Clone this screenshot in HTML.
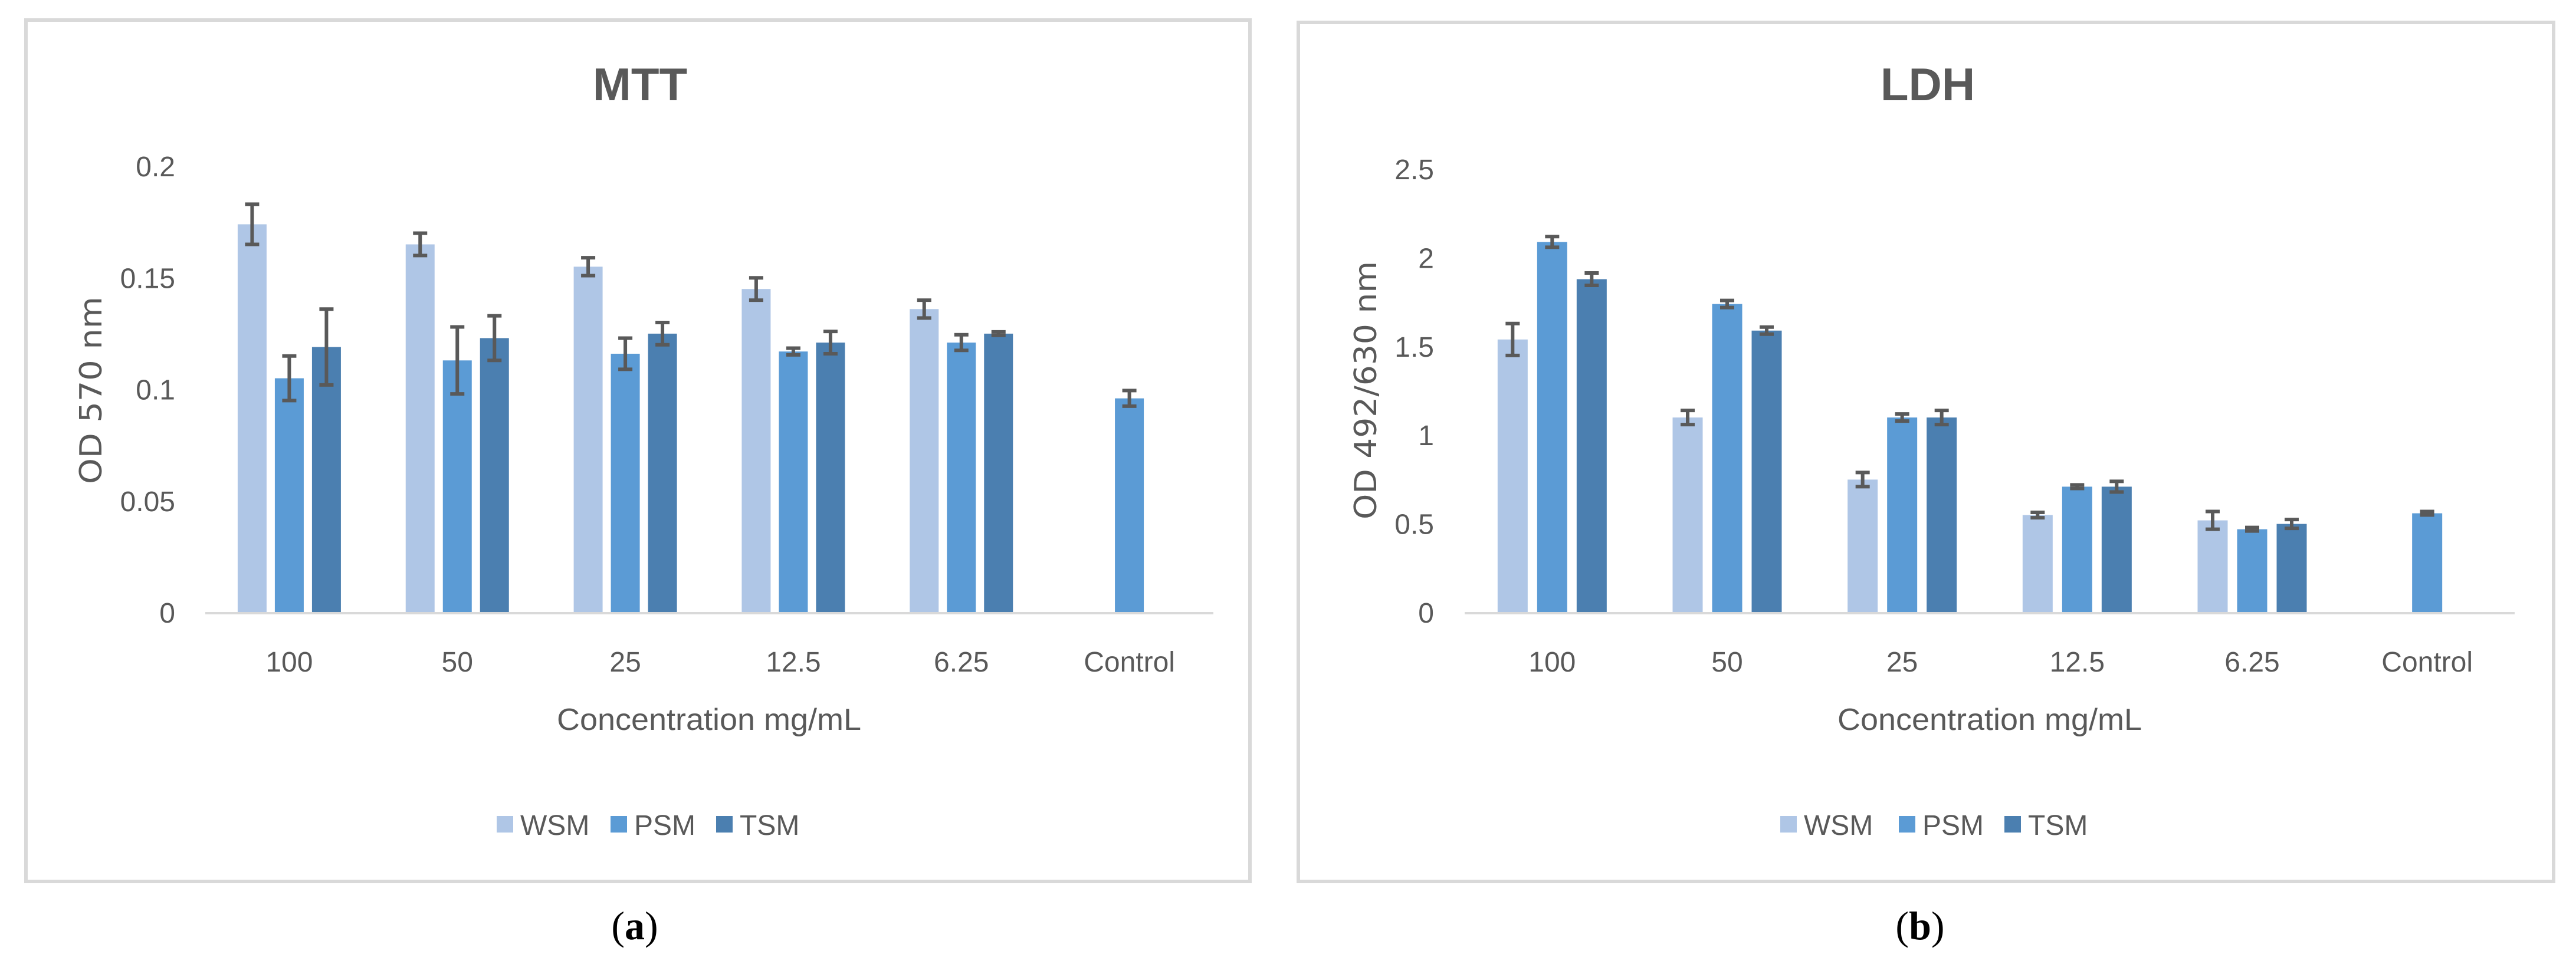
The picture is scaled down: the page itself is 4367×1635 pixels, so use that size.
<!DOCTYPE html>
<html><head><meta charset="utf-8"><style>
html,body{margin:0;padding:0;background:#fff;}
svg{display:block;}
text{font-family:"Liberation Sans Narrow","Liberation Sans",sans-serif;fill:#595959;}
</style></head><body>
<svg id="fig" width="4367" height="1635" viewBox="0 0 4367 1635" xmlns="http://www.w3.org/2000/svg">
<rect x="0" y="0" width="4367" height="1635" fill="#fff"/>
<rect x="44" y="34" width="2075" height="1461" fill="#fff" stroke="#d9d9d9" stroke-width="6"/>
<rect x="2201" y="38" width="2128" height="1457" fill="#fff" stroke="#d9d9d9" stroke-width="6"/>
<g id="chartA"></g>
<g id="chartB"></g>
<text x="1076" y="1593" text-anchor="middle" style="font-family:'Liberation Serif',serif;font-size:68px;fill:#000">(<tspan font-weight="bold">a</tspan>)</text>
<text x="3255" y="1593" text-anchor="middle" style="font-family:'Liberation Serif',serif;font-size:68px;fill:#000">(<tspan font-weight="bold">b</tspan>)</text>
</svg>
<script>
const categories = ["100","50","25","12.5","6.25","Control"];
const seriesNames = ["WSM","PSM","TSM"];
const mttWSM = [0.174,0.165,0.155,0.145,0.136,null];
const mttPSM = [0.105,0.113,0.116,0.117,0.121,0.096];
const mttTSM = [0.119,0.123,0.125,0.121,0.125,null];
const mttWSMerr = [0.009,0.005,0.004,0.005,0.004,0];
const mttPSMerr = [0.010,0.015,0.007,0.0015,0.0035,0.0035];
const mttTSMerr = [0.017,0.010,0.005,0.005,0.0008,0];
const mttTicks = ["0","0.05","0.1","0.15","0.2"];
const mttTickVals = [0,0.05,0.1,0.15,0.2];
const ldhWSM = [1.54,1.10,0.75,0.55,0.52,null];
const ldhPSM = [2.09,1.74,1.10,0.71,0.47,0.56];
const ldhTSM = [1.88,1.59,1.10,0.71,0.50,null];
const ldhWSMerr = [0.09,0.04,0.04,0.015,0.05,0];
const ldhPSMerr = [0.03,0.02,0.02,0.01,0.01,0.01];
const ldhTSMerr = [0.035,0.02,0.04,0.03,0.025,0];
const ldhTicks = ["0","0.5","1","1.5","2","2.5"];
const ldhTickVals = [0,0.5,1,1.5,2,2.5];

const colors = ["#AFC6E6","#5B9BD5","#4B7FB0"];
const NS = "http://www.w3.org/2000/svg";
function mk(tag, attrs, parent, txt){
  const e = document.createElementNS(NS, tag);
  for (const k in attrs) e.setAttribute(k, attrs[k]);
  if (txt !== undefined) e.textContent = txt;
  parent.appendChild(e);
  return e;
}
function drawChart(g, cfg){
  const y = v => cfg.y0 - (v / cfg.ymax) * (cfg.y0 - cfg.yTop);
  const band = (cfg.xR - cfg.xL) / categories.length;
  const cx = i => cfg.xL + band * (i + 0.5);
  // title
  const t = mk('text',{x:cfg.titleX,y:170,'text-anchor':'middle','font-size':78,'font-weight':'bold'},g,cfg.title);
  
  
  // y ticks
  cfg.tickVals.forEach((v,i)=>{
    const tt = mk('text',{x:cfg.tickX,y:y(v)+17,'text-anchor':'end','font-size':48},g,cfg.ticks[i]);
    
    
  });
  // y title
  const yt = mk('text',{x:0,y:0,'text-anchor':'middle','font-size':52,transform:`translate(${cfg.yTitleX+18},662) rotate(-90)`,textLength:cfg.yTitleLen,lengthAdjust:'spacingAndGlyphs',style:"font-family:'DejaVu Sans','Liberation Sans',sans-serif"},g,cfg.yTitle);
  
  
  // bars
  const vals = [cfg.s0,cfg.s1,cfg.s2];
  const errs = [cfg.e0,cfg.e1,cfg.e2];
  vals.forEach((arr,s)=>{
    arr.forEach((v,i)=>{
      if (v === null) return;
      const bx = cx(i) + (s-1)*cfg.stride - cfg.bw/2;
      const r = mk('rect',{x:bx,y:y(v),width:cfg.bw,height:cfg.y0-y(v),fill:colors[s]},g);
      
      
      const e = errs[s][i];
      const mx = bx + cfg.bw/2;
      const eg = mk('g',{stroke:'#595959','stroke-width':6},g);
      
      
      mk('line',{x1:mx,x2:mx,y1:y(v+e),y2:y(v-e)},eg);
      mk('line',{x1:mx-12,x2:mx+12,y1:y(v+e),y2:y(v+e)},eg);
      mk('line',{x1:mx-12,x2:mx+12,y1:y(v-e),y2:y(v-e)},eg);
    });
  });
  // axis
  const ax = mk('line',{x1:cfg.xL,x2:cfg.xR,y1:cfg.y0+1,y2:cfg.y0+1,stroke:'#d9d9d9','stroke-width':4},g);
  
  
  categories.forEach((c,i)=>{
    const ct = mk('text',{x:cx(i),y:1139,'text-anchor':'middle','font-size':48},g,c);
    
    
  });
  const xt = mk('text',{x:cfg.xTitleX,y:1238,'text-anchor':'middle','font-size':52,textLength:516,lengthAdjust:'spacingAndGlyphs'},g,'Concentration mg/mL');
  
  
  // legend
  seriesNames.forEach((n,s)=>{
    const lg = mk('g',{},g);
    
    
    mk('rect',{x:cfg.legX[s],y:1384,width:28,height:28,fill:colors[s]},lg);
    mk('text',{x:cfg.legX[s]+40,y:1416,'font-size':48},lg,n);
  });
}
drawChart(document.getElementById('chartA'),{
  title:'MTT',titleX:1085,y0:1039,yTop:282,ymax:0.2,xL:348,xR:2057,tickX:297,
  ticks:mttTicks,tickVals:mttTickVals,yTitle:'OD  570 nm',yTitleX:154,yTitleLen:318,
  s0:mttWSM,s1:mttPSM,s2:mttTSM,e0:mttWSMerr,e1:mttPSMerr,e2:mttTSMerr,
  bw:49,stride:63,xTitleX:1202,legX:[842,1035,1214]
});
drawChart(document.getElementById('chartB'),{
  title:'LDH',titleX:3268,y0:1039,yTop:287,ymax:2.5,xL:2483,xR:4263,tickX:2431,
  ticks:ldhTicks,tickVals:ldhTickVals,yTitle:'OD 492/630 nm',yTitleX:2315,yTitleLen:438,
  s0:ldhWSM,s1:ldhPSM,s2:ldhTSM,e0:ldhWSMerr,e1:ldhPSMerr,e2:ldhTSMerr,
  bw:51,stride:67,xTitleX:3373,legX:[3018,3219,3398]
});
</script>
</body></html>
